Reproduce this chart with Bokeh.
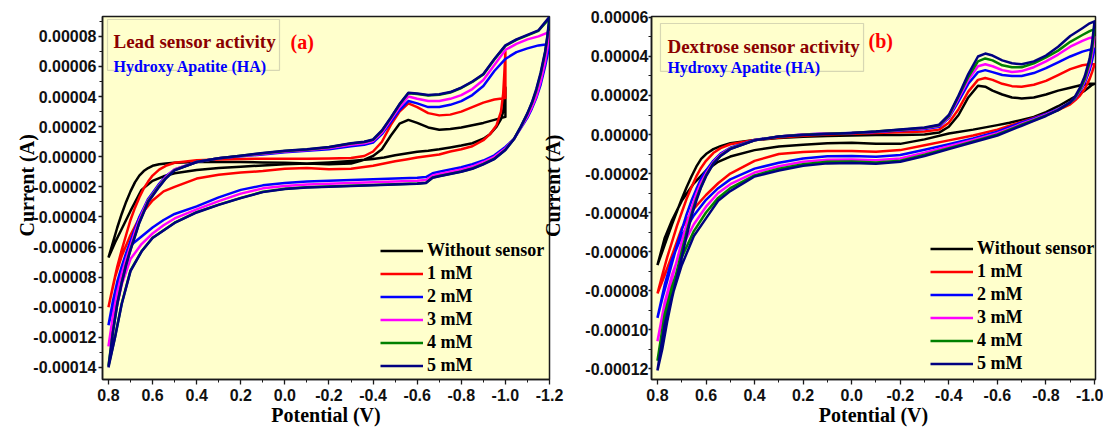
from math import pi
from bokeh.plotting import figure
from bokeh.layouts import row
from bokeh.models import (Range1d, FixedTicker, NumeralTickFormatter, Legend,
                          LegendItem, Label, BoxAnnotation, LinearAxis)
from bokeh.embed import file_html
from bokeh.resources import INLINE

SERIES = ["Without sensor", "1 mM", "2 mM", "3 mM", "4 mM", "5 mM"]
COLORS = ["#000000", "#ff0000", "#0000ff", "#ff00ff", "#008000", "#000080"]
UA = 1e-6  # values below are in microampere

# ---------------- Panel (a): Lead sensor ----------------
A_X_TICKS = [0.8, 0.6, 0.4, 0.2, 0.0, -0.2, -0.4, -0.6, -0.8, -1.0, -1.2]
A_X_MINOR = [0.7, 0.5, 0.3, 0.1, -0.1, -0.3, -0.5, -0.7, -0.9, -1.1]
A_Y_TICKS = [-0.00014, -0.00012, -0.00010, -0.00008, -0.00006, -0.00004,
             -0.00002, 0.0, 0.00002, 0.00004, 0.00006, 0.00008]
A_Y_MINOR = [-0.00013, -0.00011, -0.00009, -0.00007, -0.00005, -0.00003,
             -0.00001, 0.00001, 0.00003, 0.00005, 0.00007, 0.00009]

A_FWD_V = [0.80, 0.78, 0.76, 0.74, 0.72, 0.70, 0.68, 0.66, 0.64, 0.62,
           0.60, 0.57, 0.54, 0.50, 0.40, 0.30, 0.20, 0.10, 0.00, -0.10,
           -0.20, -0.30, -0.36, -0.40, -0.44, -0.48, -0.52, -0.56, -0.60, -0.65,
           -0.70, -0.75, -0.80, -0.85, -0.90, -0.95, -1.00, -1.05, -1.10, -1.15, -1.20]
A_REV_V = [-1.20, -1.19, -1.18, -1.16, -1.14, -1.12, -1.10, -1.07, -1.04, -1.00,
           -0.95, -0.90, -0.85, -0.80, -0.75, -0.70, -0.67, -0.64, -0.60, -0.50,
           -0.40, -0.30, -0.20, -0.10, 0.00, 0.10, 0.20, 0.30, 0.40, 0.50,
           0.55, 0.60, 0.65, 0.70, 0.74, 0.77, 0.80]
A_REV_SHORT_V = [-1.00, -0.995, -0.99, -0.98, -0.96, -0.93, -0.90, -0.85, -0.80, -0.75,
                 -0.70, -0.65, -0.60, -0.55, -0.50, -0.45, -0.40, -0.30, -0.20, -0.10,
                 0.00, 0.10, 0.20, 0.30, 0.40, 0.50, 0.55, 0.60, 0.65, 0.70,
                 0.74, 0.77, 0.80]

A_FWD_BLACK = [-67, -57, -47, -38, -30, -23, -17, -12.5, -9.5, -7.5,
               -6, -5, -4.5, -4, -3.5, -3.5, -3.5, -3.8, -4, -4.5,
               -5, -4.5, -2, 0.5, 5, 14, 22, 24.5, 22.5, 19.5,
               18, 18.5, 19.5, 21, 22.5, 24.5, 26.5]
A_REV_BLACK = [46, 38, 30, 25, 20, 15, 12, 9, 7.5, 6.2,
               5, 4, 3.3, 2.2, 1, -0.5, -1.5, -2.8, -3.8, -4.5,
               -5, -5.8, -6.6, -7.5, -8.8, -11, -13, -16, -22, -36,
               -48, -57, -67]
A_FWD_RED = [-100, -86, -73, -62, -52, -42, -34, -27, -21, -16.5,
             -12.5, -8.5, -6, -4, -2.3, -1.8, -1.5, -1.3, -1.3, -1.3,
             -1.2, -0.8, 0.5, 3.5, 10, 21, 30, 35.5, 33, 29,
             27.5, 28, 30, 33, 36, 38, 39]
A_REV_RED = [70, 55, 42, 30, 21, 15, 11, 7, 5, 3.5,
             1.5, 0.5, -0.5, -1.8, -3, -4.5, -6, -8, -8.3, -7.5,
             -8, -9.5, -10.5, -12, -14.5, -20, -23, -29, -38, -52,
             -66, -80, -100]
A_FWD_BLUE = [-112, -96, -83, -73, -64, -56, -48, -40, -34, -28,
              -24, -18, -13, -8.5, -3.5, -1, 0.3, 1.5, 3, 4,
              5, 7, 8, 9.5, 15, 23, 31, 37, 35.5, 33,
              33, 34.5, 37, 41, 47, 57, 65, 69.5, 72, 74, 75]
A_REV_BLUE = [75, 67, 60, 48, 39, 32, 26, 19, 12, 6.5,
              1, -2.5, -5, -7, -8.5, -10, -11, -13.5, -14, -14.5,
              -15, -15.5, -16, -16.5, -17.5, -19, -22, -27, -33, -38,
              -42, -47, -53, -59, -74, -94, -112]
A_FWD_MAGENTA = [-126, -106, -90, -78, -68, -59, -50, -42, -35, -29,
                 -25, -19, -13.5, -8.5, -3.5, -1, 0.5, 2, 3.5, 4.5,
                 5.8, 8, 9, 10.5, 16, 24.5, 33, 40, 38.5, 37,
                 37, 38.5, 41, 45, 51, 61, 71, 75, 78, 80, 83]
A_REV_MAGENTA = [83, 72, 63, 50, 40, 33, 27, 19.5, 12, 5.5,
                 0, -3.5, -6.5, -8.5, -10, -11.5, -12.5, -15.5, -16, -16.5,
                 -17, -17.5, -18, -18.5, -19.5, -21, -24.5, -29.5, -35, -41,
                 -45.5, -51, -58, -68, -85, -105, -126]
A_FWD_GREEN = [-139, -116.5, -97.5, -83.5, -71.5, -61.5, -52.5, -43.5, -36.5, -29.5,
               -25.5, -19.5, -14.2, -8.9, -3.5, -1, 0.6, 2.4, 3.9, 4.9,
               6.3, 8.8, 9.8, 11.2, 17.2, 25.7, 34.7, 42.2, 41.7, 40.7,
               41.2, 42.7, 45.7, 49.7, 54.7, 64.7, 73.7, 77.7, 80.7, 83.7, 92]
A_REV_GREEN = [92, 79, 69, 55, 44, 35.5, 28.7, 20, 12, 4.7,
               -1.3, -4.8, -7.8, -9.8, -11.3, -12.8, -13.8, -17.3, -17.8, -18.3,
               -18.8, -19.3, -19.8, -20.3, -21.3, -23.3, -27.3, -31.8, -36.8, -43.8,
               -48.8, -53.8, -62.8, -75.5, -97.5, -119.5, -139]
A_FWD_NAVY = [-140, -117, -98, -84, -72, -62, -53, -44, -37, -30,
              -26, -20, -14.5, -9, -3.5, -1, 0.7, 2.5, 4, 5,
              6.5, 9, 10, 11.5, 17.5, 26, 35, 42.5, 42, 41,
              41.5, 43, 46, 50, 55, 65, 74, 78, 81, 84, 93]
A_REV_NAVY = [93, 80, 70, 56, 45, 36, 29, 20, 12, 4.5,
              -1.5, -5, -8, -10, -11.5, -13, -14, -17.5, -18, -18.5,
              -19, -19.5, -20, -20.5, -21.5, -23.5, -27.5, -32, -37, -44,
              -49, -54, -63, -76, -98, -120, -140]

# ---------------- Panel (b): Dextrose sensor ----------------
B_X_TICKS = [0.8, 0.6, 0.4, 0.2, 0.0, -0.2, -0.4, -0.6, -0.8, -1.0]
B_X_MINOR = [0.7, 0.5, 0.3, 0.1, -0.1, -0.3, -0.5, -0.7, -0.9]
B_Y_TICKS = [-0.00012, -0.00010, -0.00008, -0.00006, -0.00004, -0.00002,
             0.0, 0.00002, 0.00004, 0.00006]
B_Y_MINOR = [-0.00011, -0.00009, -0.00007, -0.00005, -0.00003, -0.00001,
             0.00001, 0.00003, 0.00005]

B_FWD_V = [0.80, 0.78, 0.76, 0.74, 0.72, 0.70, 0.68, 0.66, 0.64, 0.62,
           0.60, 0.57, 0.54, 0.50, 0.40, 0.30, 0.20, 0.10, 0.00, -0.10,
           -0.20, -0.30, -0.36, -0.40, -0.44, -0.48, -0.52, -0.55, -0.58, -0.62,
           -0.66, -0.70, -0.75, -0.80, -0.85, -0.90, -0.95, -0.98, -1.00]
B_REV_V = [-1.00, -0.99, -0.98, -0.96, -0.94, -0.92, -0.90, -0.85, -0.80, -0.75,
           -0.70, -0.65, -0.60, -0.50, -0.40, -0.30, -0.20, -0.10, 0.00, 0.10,
           0.20, 0.30, 0.40, 0.50, 0.55, 0.60, 0.65, 0.70, 0.74, 0.77, 0.80]

B_FWD_BLACK = [-67, -60, -53, -46, -39.5, -33, -27, -21.5, -16.5, -12.5,
               -10, -7.5, -6, -4.5, -2.8, -1.8, -1.2, -0.8, -0.5, -0.3,
               -0.3, 0, 1, 4, 10, 19, 25, 24.5, 22.5, 20.5,
               19, 18.5, 19, 20.5, 22.5, 24, 25.5, 26, 26]
B_REV_BLACK = [26, 25.5, 24.5, 22.5, 21, 19.5, 18, 14.5, 11.5, 9,
               7.5, 6, 4.8, 2.5, 0.5, -2.5, -4.8, -4.8, -4.2, -4.5,
               -5.2, -6.2, -8, -11.3, -14, -18.5, -25, -34, -44, -53, -67]
B_FWD_RED = [-81.5, -72, -63, -55, -47, -40, -33, -27, -21.5, -17,
             -13.5, -9.5, -7, -5, -2.8, -1.5, -0.6, 0, 0.4, 0.8,
             1.1, 1.5, 2.5, 6, 13, 22, 28, 29, 28, 26,
             24.8, 24.5, 25.5, 27.5, 30.5, 33.5, 35.5, 36, 36]
B_REV_RED = [36, 32, 28.5, 23.5, 20, 17.5, 15.5, 12.5, 10.5, 8.5,
             6.5, 4.5, 2.5, -0.5, -3, -5.5, -8, -8.8, -8.4, -8.5,
             -9, -10, -13.5, -20, -25, -31, -38, -48, -62, -72, -81.5]
B_FWD_BLUE = [-94, -84, -75, -66, -57, -49, -41, -34, -28, -22.5,
              -18.5, -13.5, -9.8, -6.8, -2.8, -1, 0, 0.5, 0.8, 1.3,
              2, 2.8, 4, 8.5, 17, 26, 32, 33, 32, 30.5,
              30, 30, 31.5, 34, 37, 40, 42.5, 43.5, 44]
B_REV_BLUE = [44, 38, 33, 26.5, 22, 18.5, 16.5, 13, 10.5, 8.3,
              6.2, 3.8, 1.5, -2, -5, -7.8, -10.5, -11.4, -11, -11.2,
              -12.3, -14.5, -17.5, -23, -27.5, -33.5, -41.5, -52, -64, -77, -94]
B_FWD_MAGENTA = [-106, -95, -84, -74, -64.5, -55, -46, -38, -30.5, -24.5,
                 -20, -14.3, -10.3, -7.1, -3, -1, 0, 0.5, 0.8, 1.4,
                 2.3, 3.2, 4.5, 9, 18.5, 28, 35, 36, 35, 33,
                 32, 32.5, 34.5, 37.5, 41, 45, 48, 49.5, 50]
B_REV_MAGENTA = [50, 41.5, 35, 27.5, 22.5, 18.8, 16.5, 12.8, 10.2, 7.8,
                 5.5, 3, 0.7, -2.8, -6, -9.3, -12.3, -13.2, -12.8, -12.9,
                 -14, -16.3, -19.5, -25.5, -30, -37, -46, -58, -72, -86, -106]
B_FWD_GREEN = [-116, -104, -91, -80, -70, -60, -50, -41, -33, -26.5,
               -21, -14.8, -10.8, -7.3, -3, -1, -0.1, 0.4, 0.8, 1.5,
               2.5, 3.4, 4.8, 9.5, 19.5, 29.5, 37.5, 39, 38, 35.5,
               34.5, 34.5, 36.5, 39.5, 43, 47.5, 51, 53, 54]
B_REV_GREEN = [54, 44, 37, 28.5, 23, 19, 16.5, 12.5, 9.8, 7.3,
               5, 2.5, 0, -3.5, -7, -10.4, -13.4, -14.3, -13.9, -14,
               -15.2, -17.5, -21, -27.5, -32.5, -40, -49.5, -63, -78, -92, -116]
B_FWD_NAVY = [-121, -110, -96, -84, -73, -63, -52, -42, -34, -27,
              -21.5, -15, -11, -7.5, -3, -1, -0.2, 0.3, 0.8, 1.5,
              2.6, 3.6, 5, 10, 20, 31, 40, 41.5, 40.5, 38,
              36.5, 36, 37.5, 40.5, 45, 50.5, 54.5, 57, 58]
B_REV_NAVY = [58, 47, 39, 30, 24, 19.5, 16.5, 12.5, 9.5, 7,
              4.5, 2, -0.5, -4, -7.5, -11, -14, -15, -14.6, -14.8,
              -16, -18.5, -21.5, -29, -34, -43, -52, -67, -83, -97, -121]

SERIF = "Liberation Serif"
SANS = "Liberation Sans"
BG = "#FFFFCC"
Y_TITLE = "Current (A)"
X_TITLE = "Potential (V)"


def loop(fwd_v, fwd_i, rev_v, rev_i):
    assert len(rev_v) == len(rev_i), (len(rev_v), len(rev_i))
    assert len(fwd_i) <= len(fwd_v)
    xs = list(fwd_v[:len(fwd_i)]) + list(rev_v)
    ys = [v * UA for v in list(fwd_i) + list(rev_i)]
    return xs, ys


def px2data(px, py, frame, xr, yr):
    L, T, R, B = frame
    x = xr[0] + (px - L) * (xr[1] - xr[0]) / (R - L)
    y = yr[1] - (py - T) * (yr[1] - yr[0]) / (B - T)
    return x, y


def title_axis(p, side, yc, standoff):
    """An axis without line/ticks whose only tick label is the vertical y title."""
    ax = LinearAxis(ticker=FixedTicker(ticks=[yc], minor_ticks=[]),
                    major_label_overrides={yc: Y_TITLE},
                    major_label_orientation=pi / 2,
                    major_label_standoff=standoff,
                    major_tick_in=0, major_tick_out=0, minor_tick_in=0, minor_tick_out=0,
                    axis_line_color=None, major_tick_line_color=None,
                    minor_tick_line_color=None,
                    major_label_text_font=SERIF, major_label_text_font_style="bold",
                    major_label_text_font_size="20px", major_label_text_color="black",
                    major_label_text_line_height=1.0)
    p.add_layout(ax, side)
    return ax


def make_panel(width, borders, frame, xr, yr, xt, xm, yt, ym, curves,
               box_px, texts, legend_loc):
    bl, br, bt, bb = borders
    p = figure(width=width, height=428, output_backend="svg", toolbar_location=None,
               x_range=Range1d(*xr), y_range=Range1d(yr[0], yr[1]),
               min_border_left=bl, min_border_right=br,
               min_border_top=bt, min_border_bottom=bb)
    p.background_fill_color = BG
    p.border_fill_color = "white"
    p.outline_line_color = "#1a1a1a"
    p.outline_line_width = 1.5
    p.grid.visible = False

    for ax in (p.xaxis[0], p.yaxis[0]):
        ax.axis_line_color = "#1a1a1a"
        ax.axis_line_width = 1.5
        ax.major_tick_in = 0
        ax.minor_tick_in = 0
        ax.minor_tick_out = 3
        ax.major_tick_line_color = "#1a1a1a"
        ax.minor_tick_line_color = "#1a1a1a"
        ax.major_tick_line_width = 1.3
        ax.major_label_text_font = SANS
        ax.major_label_text_font_style = "bold"
        ax.major_label_text_font_size = "16px"
        ax.major_label_text_color = "#111111"
        ax.major_label_text_line_height = 1.0
        ax.axis_label_text_font = SERIF
        ax.axis_label_text_font_style = "bold"
        ax.axis_label_text_font_size = "20px"
        ax.axis_label_text_color = "black"
        ax.axis_label_text_line_height = 1.0
    p.xaxis.major_tick_out = 5
    p.xaxis.major_label_standoff = 4
    p.xaxis.axis_label_standoff = 0
    p.yaxis.major_tick_out = 4
    p.yaxis.major_label_standoff = 2
    p.xaxis.axis_label = X_TITLE
    p.xaxis.ticker = FixedTicker(ticks=xt, minor_ticks=xm)
    p.yaxis.ticker = FixedTicker(ticks=yt, minor_ticks=ym)
    p.xaxis.formatter = NumeralTickFormatter(format="0.0")
    p.yaxis.formatter = NumeralTickFormatter(format="0.00000")

    items = []
    for (lab, col, xs, ys) in curves:
        r = p.line(xs, ys, line_color=col, line_width=2.5, line_join="round")
        items.append(LegendItem(label=lab, renderers=[r]))
    leg = Legend(items=items, location=legend_loc, padding=0, spacing=2, margin=0,
                 glyph_width=43, glyph_height=21, label_height=21, label_standoff=4,
                 label_text_font=SERIF, label_text_font_style="bold",
                 label_text_font_size="18px", label_text_color="black",
                 background_fill_alpha=0, border_line_color=None)
    p.add_layout(leg)

    (bx0, by0, bx1, by1) = box_px
    l, t = px2data(bx0, by0, frame, xr, yr)
    r_, b = px2data(bx1, by1, frame, xr, yr)
    p.add_layout(BoxAnnotation(left=l, right=r_, top=t, bottom=b,
                               fill_color=BG, fill_alpha=1.0,
                               line_color="#7a7a7a", line_width=1.2))

    for (txt, tx, ty, size, color) in texts:
        x, y = px2data(tx, ty, frame, xr, yr)
        p.add_layout(Label(x=x, y=y, text=txt, text_font=SERIF, text_font_style="bold",
                           text_font_size=size, text_color=color,
                           text_align="left", text_baseline="alphabetic"))
    return p


a_curves = [
    (SERIES[0], COLORS[0]) + loop(A_FWD_V, A_FWD_BLACK, A_REV_SHORT_V, A_REV_BLACK),
    (SERIES[1], COLORS[1]) + loop(A_FWD_V, A_FWD_RED, A_REV_SHORT_V, A_REV_RED),
    (SERIES[2], COLORS[2]) + loop(A_FWD_V, A_FWD_BLUE, A_REV_V, A_REV_BLUE),
    (SERIES[3], COLORS[3]) + loop(A_FWD_V, A_FWD_MAGENTA, A_REV_V, A_REV_MAGENTA),
    (SERIES[4], COLORS[4]) + loop(A_FWD_V, A_FWD_GREEN, A_REV_V, A_REV_GREEN),
    (SERIES[5], COLORS[5]) + loop(A_FWD_V, A_FWD_NAVY, A_REV_V, A_REV_NAVY),
]
b_curves = [
    (SERIES[0], COLORS[0]) + loop(B_FWD_V, B_FWD_BLACK, B_REV_V, B_REV_BLACK),
    (SERIES[1], COLORS[1]) + loop(B_FWD_V, B_FWD_RED, B_REV_V, B_REV_RED),
    (SERIES[2], COLORS[2]) + loop(B_FWD_V, B_FWD_BLUE, B_REV_V, B_REV_BLUE),
    (SERIES[3], COLORS[3]) + loop(B_FWD_V, B_FWD_MAGENTA, B_REV_V, B_REV_MAGENTA),
    (SERIES[4], COLORS[4]) + loop(B_FWD_V, B_FWD_GREEN, B_REV_V, B_REV_GREEN),
    (SERIES[5], COLORS[5]) + loop(B_FWD_V, B_FWD_NAVY, B_REV_V, B_REV_NAVY),
]

# page coordinates (the Bokeh page has no body margin)
A_FRAME = (102, 15, 549, 379)
A_XR = (0.827, -1.2)
A_YR = (-0.000148, 0.0000932)
B_FRAME = (649, 16, 1095, 380)
B_XR = (0.8245, -1.004)
B_YR = (-0.0001256, 0.0000605)
A_W = 582

pa = make_panel(A_W, (102, A_W - 549, 15, 49), A_FRAME, A_XR, A_YR,
                A_X_TICKS, A_X_MINOR, A_Y_TICKS, A_Y_MINOR, a_curves,
                (107, 18, 279, 69),
                [("Lead sensor activity", 113, 40, "19px", "#8B0000"),
                 ("Hydroxy Apatite (HA)", 113, 65, "16px", "#0000FF"),
                 ("(a)", 290, 41, "20px", "#FF0000")],
                (278, 3.5))
# y titles, both spanning page y 132..237 as in the reference.
# left axis label anchors at the end of the text, right axis label at its start.
_, ya_end = px2data(0, 133, A_FRAME, A_XR, A_YR)
_, yb_start = px2data(0, 236, A_FRAME, A_XR, A_YR)
title_axis(pa, "left", ya_end, 3)       # title of panel (a)
title_axis(pa, "right", yb_start, 4)    # title of panel (b), in the gap between panels

B_W = 1103 - A_W
pb = make_panel(B_W, (649 - A_W, 8, 16, 48), B_FRAME, B_XR, B_YR,
                B_X_TICKS, B_X_MINOR, B_Y_TICKS, B_Y_MINOR, b_curves,
                (658, 23, 862, 71),
                [("Dextrose sensor activity", 665, 46, "19px", "#8B0000"),
                 ("Hydroxy Apatite (HA)", 665, 67, "16px", "#0000FF"),
                 ("(b)", 867, 41, "20px", "#FF0000")],
                (279, 5.5))
pb.yaxis.major_label_standoff = 0
pb.yaxis.major_tick_out = 3

layout = row(pa, pb)
open("out.html", "w").write(file_html(layout, INLINE))
